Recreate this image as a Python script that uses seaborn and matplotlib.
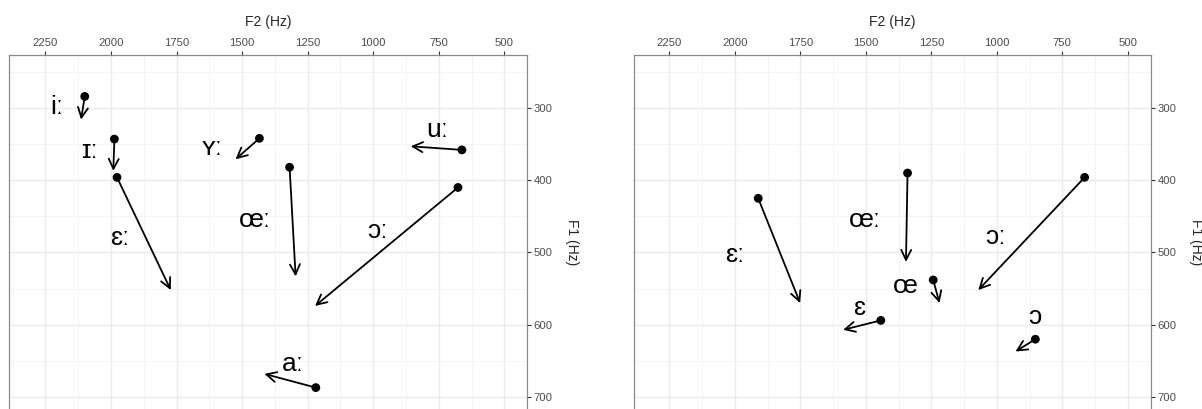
import matplotlib
matplotlib.use('Agg')
import matplotlib.pyplot as plt
import seaborn as sns
import pandas as pd
from matplotlib.ticker import MultipleLocator

sns.set_theme(style='whitegrid')
plt.rcParams['font.family'] = ['Liberation Sans', 'DejaVu Sans']

# Long vowels (left panel): onset F2/F1, offset F2/F1, label position
long_vowels = ['iː', 'ɪː', 'ɛː', 'ʏː', 'œː', 'uː', 'ɔː', 'aː']
long_f2_start = [2100, 1987, 1977, 1434, 1319, 662, 677, 1219]
long_f1_start = [284, 343, 396, 342, 382, 358, 410, 687]
long_f2_end = [2114, 1991, 1772, 1525, 1296, 857, 1222, 1415]
long_f1_end = [316, 387, 552, 371, 533, 353, 574, 668]
long_lab_f2 = [2205, 2081, 1968, 1613, 1452, 757, 984, 1306]
long_lab_f1 = [299, 359, 480, 356, 455, 330, 470, 654]

# Right panel: long and short mid vowels
mid_vowels = ['ɛː', 'œː', 'ɔː', 'œ', 'ɛ', 'ɔ']
mid_f2_start = [1911, 1341, 665, 1243, 1443, 853]
mid_f1_start = [425, 390, 396, 538, 594, 620]
mid_f2_end = [1751, 1347, 1071, 1219, 1587, 929]
mid_f1_end = [570, 513, 552, 570, 607, 637]
mid_lab_f2 = [2002, 1504, 1005, 1350, 1526, 854]
mid_lab_f1 = [503, 455, 478, 547, 577, 589]

W, H = 1202, 409
fig = plt.figure(figsize=(W / 100, H / 100), dpi=100)


def panel(x0, x1, f2_lim, vowels, f2s, f1s, f2e, f1e, lf2, lf1):
    top, bottom = 55, 430
    ax = fig.add_axes([x0 / W, 1 - bottom / H, (x1 - x0) / W, (bottom - top) / H])
    df = pd.DataFrame({'vowel': vowels, 'F2': f2s, 'F1': f1s})
    sns.scatterplot(data=df, x='F2', y='F1', ax=ax, color='black', s=40,
                    edgecolor='none', zorder=4, legend=False)
    for v, a, b, c, d, e, f in zip(vowels, f2s, f1s, f2e, f1e, lf2, lf1):
        ax.annotate('', xy=(c, d), xytext=(a, b),
                    arrowprops=dict(arrowstyle='->,head_length=0.6,head_width=0.3',
                                    color='black', lw=1.3, shrinkA=0, shrinkB=0))
        ax.text(e, f, v, fontsize=19, ha='center', va='center', color='black')
    ax.set_xlim(f2_lim)
    # F1 scale: 300 Hz at y=108 px, 700 Hz at y=397 px
    ax.set_ylim(700 + (bottom - 397) / 0.7225, 300 - (108 - top) / 0.7225)
    ax.xaxis.set_major_locator(MultipleLocator(250))
    ax.xaxis.set_minor_locator(MultipleLocator(125))
    ax.yaxis.set_major_locator(MultipleLocator(100))
    ax.yaxis.set_minor_locator(MultipleLocator(50))
    ax.grid(which='major', color='#EBEBEB', lw=1.0)
    ax.grid(which='minor', color='#F2F2F2', lw=0.6)
    ax.set_facecolor('white')
    ax.xaxis.tick_top()
    ax.xaxis.set_label_position('top')
    ax.yaxis.tick_right()
    ax.yaxis.set_label_position('right')
    ax.tick_params(which='major', length=3, width=0.8, color='#333333',
                   labelsize=8.1, labelcolor='#4D4D4D', pad=2)
    ax.tick_params(which='minor', length=0)
    ax.set_xlabel('F2 (Hz)', fontsize=10, labelpad=9)
    ax.set_ylabel('F1 (Hz)', fontsize=10, rotation=270, labelpad=19)
    for s in ax.spines.values():
        s.set_color('#8A8A8A')
        s.set_linewidth(0.9)
        s.set_visible(True)
    return ax


panel(9.2, 526.7, (2388, 415), long_vowels, long_f2_start, long_f1_start,
      long_f2_end, long_f1_end, long_lab_f2, long_lab_f1)
panel(633.8, 1150.9, (2386, 412), mid_vowels, mid_f2_start, mid_f1_start,
      mid_f2_end, mid_f1_end, mid_lab_f2, mid_lab_f1)

fig.savefig('out.png', dpi=100, facecolor='white')
